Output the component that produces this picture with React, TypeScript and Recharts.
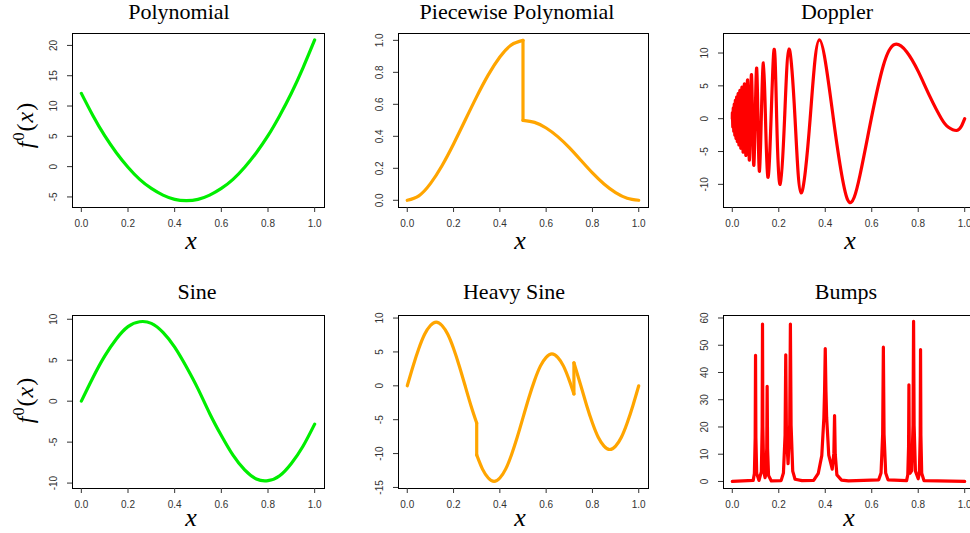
import { LineChart, Line, XAxis, YAxis, ReferenceArea } from "recharts";

// shared x ticks
const xTicks = [0, 0.2, 0.4, 0.6, 0.8, 1];

// Polynomial
const polyX = [0, 0.05, 0.1, 0.15, 0.2, 0.25, 0.3, 0.35, 0.4, 0.45, 0.5, 0.55, 0.6, 0.65, 0.7, 0.75, 0.8, 0.85, 0.9, 0.95, 1];
const polyY = [12.1, 8.4, 5.1, 2.3, -0.1, -2.1, -3.6, -4.7, -5.4, -5.6, -5.4, -4.7, -3.6, -2.1, -0.1, 2.3, 5.1, 8.4, 12.1, 16.3, 20.9];
const polyTicks = [-5, 0, 5, 10, 15, 20];

// Piecewise Polynomial: two pieces, jump at 0.5
const ppLeftX = [0, 0.05, 0.1, 0.15, 0.2, 0.25, 0.3, 0.35, 0.4, 0.45, 0.5];
const ppLeftY = [0, 0.028, 0.104, 0.216, 0.352, 0.5, 0.648, 0.784, 0.896, 0.972, 1];
const ppRightX = [0.5, 0.55, 0.6, 0.65, 0.7, 0.75, 0.8, 0.85, 0.9, 0.95, 1];
const ppRightY = [0.5, 0.487, 0.452, 0.398, 0.329, 0.25, 0.171, 0.102, 0.048, 0.013, 0];
const ppTicks = [0, 0.2, 0.4, 0.6, 0.8, 1];

// Doppler: extrema + crossings
const dopX = [0, 0.0008, 0.0026, 0.0045, 0.0065, 0.0087, 0.011, 0.0134, 0.0161, 0.0189, 0.0219, 0.0252, 0.0288, 0.0327, 0.0369, 0.0416, 0.0467, 0.0523, 0.0586, 0.0657, 0.0736, 0.0826, 0.0928, 0.105, 0.117, 0.134, 0.153, 0.177, 0.191, 0.206, 0.225, 0.244, 0.27, 0.296, 0.335, 0.375, 0.435, 0.497, 0.55, 0.598, 0.65, 0.698, 0.75, 0.8, 0.85, 0.9, 0.93, 0.964, 0.985, 1];
const dopY = [0, 0.7, -1.2, 1.6, -1.9, 2.2, -2.5, 2.8, -3.0, 3.3, -3.5, 3.8, -4.0, 4.3, -4.5, 4.8, -5.1, 5.3, -5.6, 5.9, -6.3, 6.7, -7.1, 7.7, -8.0, 8.5, -8.9, 9.5, 0, -10.0, 0, 10.6, 0, -11.3, 0, 12.0, 0, -12.4, -8.5, 0, 8.1, 11.3, 10.2, 7.2, 3.4, 0, -1.3, -1.8, -1.2, 0];
const dopTicks = [-10, -5, 0, 5, 10];

// Sine
const sineX = [0, 0.05, 0.1, 0.15, 0.2, 0.25, 0.3, 0.35, 0.4, 0.45, 0.5, 0.55, 0.6, 0.65, 0.7, 0.75, 0.8, 0.85, 0.9, 0.95, 1];
const sineY = [0, 2.9, 5.5, 7.6, 9.1, 9.7, 9.5, 8.4, 6.6, 4.2, 1.5, -1.5, -4.2, -6.6, -8.4, -9.5, -9.7, -9.1, -7.6, -5.5, -2.8];
const sineTicks = [-10, -5, 0, 5, 10];

// Heavy Sine: three pieces, jumps at 0.3 and 0.72
const hsAX = [0, 0.025, 0.05, 0.075, 0.1, 0.125, 0.15, 0.175, 0.2, 0.225, 0.25, 0.275, 0.3];
const hsAY = [0, 2.9, 5.5, 7.6, 8.9, 9.4, 8.9, 7.6, 5.5, 2.9, 0, -2.9, -5.5];
const hsBX = [0.3, 0.325, 0.35, 0.375, 0.4, 0.425, 0.45, 0.475, 0.5, 0.525, 0.55, 0.575, 0.6, 0.625, 0.65, 0.675, 0.7, 0.72];
const hsBY = [-10.2, -12.3, -13.6, -14.1, -13.6, -12.3, -10.2, -7.6, -4.7, -1.8, 0.8, 2.9, 4.2, 4.7, 4.2, 2.9, 0.8, -1.2];
const hsCX = [0.72, 0.75, 0.775, 0.8, 0.825, 0.85, 0.875, 0.9, 0.925, 0.95, 0.975, 1];
const hsCY = [3.4, 0, -2.9, -5.5, -7.6, -8.9, -9.4, -8.9, -7.6, -5.5, -2.9, 0];
const hsTicks = [-15, -10, -5, 0, 5, 10];

// Bumps
const bumpX = [0, 0.09, 0.095, 0.0985, 0.1, 0.1015, 0.105, 0.115, 0.125, 0.1285, 0.13, 0.1315, 0.135, 0.141, 0.144, 0.1482, 0.15, 0.1518, 0.156, 0.168, 0.21, 0.22, 0.227, 0.23, 0.233, 0.24, 0.247, 0.25, 0.253, 0.26, 0.27, 0.3, 0.35, 0.37, 0.385, 0.394, 0.397, 0.4, 0.403, 0.406, 0.415, 0.43, 0.437, 0.44, 0.443, 0.45, 0.47, 0.5, 0.63, 0.64, 0.647, 0.65, 0.653, 0.66, 0.67, 0.75, 0.755, 0.7585, 0.76, 0.7615, 0.765, 0.772, 0.7776, 0.78, 0.7824, 0.788, 0.8, 0.805, 0.8085, 0.81, 0.8115, 0.815, 0.825, 1];
const bumpY = [0, 0.4, 2.9, 16.1, 46.3, 16.1, 2.9, 0.4, 3.6, 20.1, 57.8, 20.1, 3.8, 1.4, 2.5, 12.2, 34.9, 12.1, 2.2, 0.2, 0.3, 3.1, 16.8, 46.5, 17.2, 6.5, 21, 57.8, 20.6, 3.8, 0.8, 0.3, 0.4, 3.0, 9.5, 23.3, 33.0, 48.8, 33.1, 23.5, 9.7, 4.5, 10.4, 24.2, 10, 2.4, 0.5, 0.2, 0.6, 3.1, 17.3, 49.3, 17.3, 3.1, 0.6, 0.3, 2.4, 12.8, 35.5, 13, 3.0, 4.0, 20.7, 58.8, 20.5, 3.8, 1.0, 3.2, 16.9, 48.4, 16.9, 3.0, 0.3, 0];
const bumpTicks = [0, 10, 20, 30, 40, 50, 60];

const AXIS_W = 72;
const TOP = 33;
const BOTTOM = 50;
const RIGHT = 4;
const tickFont = "'Liberation Sans', Arial, Helvetica, sans-serif";
const serif = "'Liberation Serif', 'Times New Roman', Times, serif";

type Pt = { x: number; y: number };
type Seg = { pts: Pt[]; curve: "natural" | "linear" };

const toPts = (xs: number[], ys: number[]): Pt[] => xs.map((x, i) => ({ x, y: ys[i] }));
// vertical jump joining the end of one piece to the start of the next
const jump = (a: Pt[], b: Pt[]): Seg => ({ pts: [a[a.length - 1], b[0]], curve: "linear" });

const ppL = toPts(ppLeftX, ppLeftY);
const ppR = toPts(ppRightX, ppRightY);
const hsA = toPts(hsAX, hsAY);
const hsB = toPts(hsBX, hsBY);
const hsC = toPts(hsCX, hsCY);

type Panel = {
  title: string;
  segs: Seg[];
  color: string;
  domain: [number, number];
  yTicks: number[];
  decimals: number;
  boxL: number;
  boxT: number;
  boxW: number;
  boxH: number;
  titleX: number;
  titleTop: number;
  xLabX: number;
  xLabTop: number;
  yLabY?: number;
};

const panels: Panel[] = [
  { title: "Polynomial", segs: [{ pts: toPts(polyX, polyY), curve: "natural" }], color: "#00ee00", domain: [-6.66, 22.05], yTicks: polyTicks, decimals: 0, boxL: 72, boxT: 33, boxW: 252, boxH: 174, titleX: 179, titleTop: 0, xLabX: 191, xLabTop: 228, yLabY: 125 },
  { title: "Piecewise Polynomial", segs: [{ pts: ppL, curve: "natural" }, jump(ppL, ppR), { pts: ppR, curve: "natural" }], color: "#ffa500", domain: [-0.042, 1.046], yTicks: ppTicks, decimals: 1, boxL: 398, boxT: 33, boxW: 250, boxH: 174, titleX: 517, titleTop: 0, xLabX: 520, xLabTop: 228 },
  { title: "Doppler", segs: [{ pts: toPts(dopX, dopY), curve: "natural" }], color: "#ff0000", domain: [-13.45, 13.05], yTicks: dopTicks, decimals: 0, boxL: 723, boxT: 33, boxW: 251, boxH: 174, titleX: 837, titleTop: 0, xLabX: 850, xLabTop: 228 },
  { title: "Sine", segs: [{ pts: toPts(sineX, sineY), curve: "natural" }], color: "#00ee00", domain: [-10.6, 10.52], yTicks: sineTicks, decimals: 0, boxL: 72, boxT: 315, boxW: 252, boxH: 173, titleX: 197, titleTop: 280, xLabX: 191, xLabTop: 505, yLabY: 400 },
  { title: "Heavy Sine", segs: [{ pts: hsA, curve: "natural" }, jump(hsA, hsB), { pts: hsB, curve: "natural" }, jump(hsB, hsC), { pts: hsC, curve: "natural" }], color: "#ffa500", domain: [-15.08, 10.45], yTicks: hsTicks, decimals: 0, boxL: 398, boxT: 315, boxW: 250, boxH: 173, titleX: 514, titleTop: 280, xLabX: 520, xLabTop: 505 },
  { title: "Bumps", segs: [{ pts: toPts(bumpX, bumpY), curve: "linear" }], color: "#ff0000", domain: [-2.4, 61.1], yTicks: bumpTicks, decimals: 0, boxL: 723, boxT: 315, boxW: 251, boxH: 173, titleX: 846, titleTop: 280, xLabX: 849, xLabTop: 505 },
];

function RotTick(props: any) {
  const { x, y, payload, decimals } = props;
  const v = Number(payload.value);
  const label = decimals ? v.toFixed(decimals) : String(Math.round(v));
  return (
    <text x={x} y={y} transform={`rotate(-90 ${x} ${y})`} textAnchor="middle" fontSize={10} fill="#333" fontFamily={tickFont}>
      {label}
    </text>
  );
}

function PanelChart({ p }: { p: Panel }) {
  return (
    <>
      <div style={{ position: "absolute", left: p.boxL - AXIS_W, top: p.boxT - TOP }}>
        <LineChart width={p.boxW + AXIS_W + RIGHT} height={p.boxH + TOP + BOTTOM} margin={{ top: TOP, right: RIGHT, bottom: 0, left: 0 }}>
          <XAxis
            dataKey="x"
            type="number"
            domain={[-0.04, 1.04]}
            ticks={xTicks}
            interval={0}
            allowDataOverflow
            axisLine={false}
            tickLine={{ stroke: "#333" }}
            tickSize={5}
            tickMargin={8}
            height={BOTTOM}
            tick={{ fontSize: 10, fill: "#333", fontFamily: tickFont }}
            tickFormatter={(v: number) => v.toFixed(1)}
          />
          <YAxis
            type="number"
            domain={p.domain}
            ticks={p.yTicks}
            interval={0}
            allowDataOverflow
            width={AXIS_W}
            axisLine={false}
            tickLine={{ stroke: "#333" }}
            tickSize={5}
            tickMargin={10}
            tick={<RotTick decimals={p.decimals} />}
          />
          {p.segs.map((s, i) => (
            <Line
              key={i}
              data={s.pts}
              dataKey="y"
              type={s.curve}
              stroke={p.color}
              strokeWidth={3.2}
              strokeLinejoin="round"
              strokeLinecap="round"
              dot={false}
              activeDot={false}
              isAnimationActive={false}
            />
          ))}
          <ReferenceArea x1={-0.04} x2={1.04} y1={p.domain[0]} y2={p.domain[1]} fill="none" stroke="#000" strokeWidth={1} shapeRendering="crispEdges" />
        </LineChart>
      </div>
      <div style={{ position: "absolute", left: p.titleX - 150, width: 300, top: p.titleTop, textAlign: "center", fontFamily: serif, fontSize: 22, lineHeight: "24px", color: "#000" }}>
        {p.title}
      </div>
      <div style={{ position: "absolute", left: p.xLabX - 30, width: 60, top: p.xLabTop, textAlign: "center", fontFamily: serif, fontStyle: "italic", fontSize: 26, lineHeight: "26px", color: "#000" }}>
        x
      </div>
      {p.yLabY !== undefined && (
        <div style={{ position: "absolute", left: 25 - 50, width: 100, top: p.yLabY - 15, height: 30, lineHeight: "30px", textAlign: "center", transform: "rotate(-90deg)", fontFamily: serif, fontSize: 24, color: "#000", whiteSpace: "nowrap", letterSpacing: 1 }}>
          <i>f</i>
          <span style={{ fontSize: 16, position: "relative", top: -9 }}>0</span>
          (<i>x</i>)
        </div>
      )}
    </>
  );
}

export default function App() {
  return (
    <div style={{ position: "absolute", left: 0, top: 0, width: 970, height: 533, overflow: "hidden", background: "#fff" }}>
      {panels.map((p) => (
        <PanelChart key={p.title} p={p} />
      ))}
    </div>
  );
}
